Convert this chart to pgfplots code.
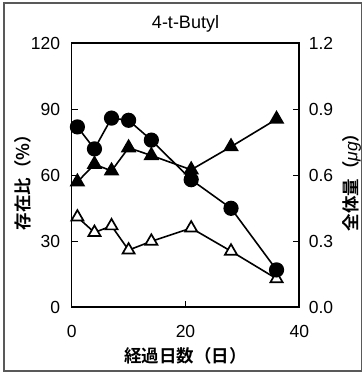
\documentclass[border=0pt]{standalone}
\usepackage{fontspec}
\setmainfont{Liberation Sans}
\newfontfamily\cjk{Noto Sans CJK JP}[BoldFont={Noto Sans CJK JP Bold}]
\usepackage{pgfplots}
\usepackage{pgfplotstable}
\pgfplotsset{compat=1.18}

% day, ratio (filled circles), total (filled triangles, in % units of the left axis), ratio (open triangles)
\pgfplotstableread{
day  circ  tri   otri
1    82    57    41
4    72    65    34
7    86    62    37
10   85    72.5  26
14   76    69    30
21   58    62.5  36
28   45    73    25.5
36   17    85.5  13
}\butyl

\newcommand{\lbl}{\fontsize{17.5}{20}\selectfont}

\begin{document}
\begin{tikzpicture}
\useasboundingbox (-71.7pt,-66.7pt) rectangle (291.3pt,307.3pt);
\draw[black!65, line width=1.2pt] (-67.7pt,-63.7pt) rectangle (289.8pt,304.3pt);

\pgfplotsset{
  common/.style={
    at={(0pt,0pt)}, anchor=south west,
    scale only axis, width=227.6pt, height=264pt,
    xmin=0, xmax=40,
    axis line style={line width=1.6pt, black},
    tick style={line width=1.2pt, black},
    tick align=inside, major tick length=6pt,
    tick label style={font=\lbl},
    /pgf/number format/assume math mode=true,
  }
}

\begin{axis}[
  common,
  ymin=0, ymax=120,
  xtick={0,20,40}, ytick={0,30,60,90,120},
  xtick pos=bottom, ytick pos=left,
  xticklabel style={yshift=-14pt},
  yticklabel style={xshift=-8pt},
]
\addplot[black, line width=1.6pt, mark=triangle*, mark size=7pt,
  mark options={fill=white, draw=black, line width=1.7pt}]
  table[x=day, y=otri] {\butyl};
\addplot[black, line width=1.6pt, mark=triangle*, mark size=7.5pt,
  mark options={fill=black}]
  table[x=day, y=tri] {\butyl};
\addplot[black, line width=1.6pt, mark=*, mark size=6.8pt,
  mark options={fill=black}]
  table[x=day, y=circ] {\butyl};
\end{axis}

\begin{axis}[
  common,
  ymin=0, ymax=1.2,
  axis x line=none, axis y line*=right,
  ytick={0,0.3,0.6,0.9,1.2},
  yticklabel style={xshift=6pt, /pgf/number format/.cd, fixed, fixed zerofill, precision=1},
]
\end{axis}

\node[font=\fontsize{18}{20}\selectfont] at (113.8pt,283pt) {4-t-Butyl};
\node[font=\lbl\cjk\bfseries] at (113.8pt,-48.7pt) {経過日数（日）};
\node[font=\lbl\cjk\bfseries, rotate=90] at (-48.7pt,129.3pt) {存在比（\%）};
\node[font=\lbl\cjk\bfseries, rotate=90] at (280pt,129.3pt) {全体量（{\mdseries\itshape\fontspec{Liberation Sans}μg}）};
\end{tikzpicture}
\end{document}
